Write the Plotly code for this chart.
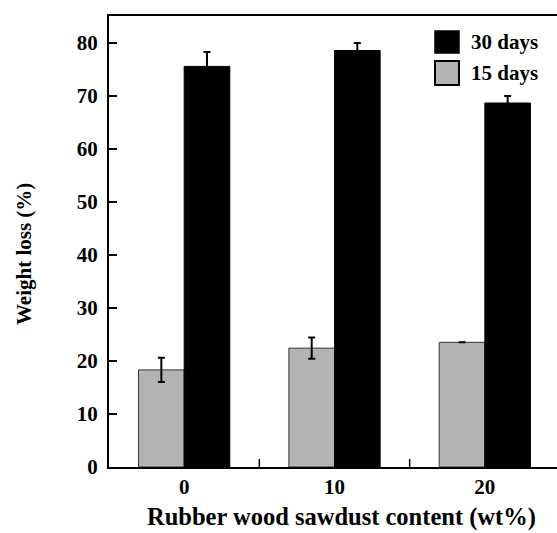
import plotly.graph_objects as go

categories = ["0", "10", "20"]
days15 = [18.3, 22.4, 23.5]
days15_err = [2.3, 2.0, 0.0]
days30 = [75.5, 78.5, 68.6]
days30_err = [2.7, 1.4, 1.3]
yticks = [0, 10, 20, 30, 40, 50, 60, 70, 80]

W, H = 557, 533
L, R, T, B = 109, 0, 16, 66
FONT = "Liberation Serif"

xpos = list(range(len(categories)))

fig = go.Figure()
fig.add_bar(x=xpos, y=days15, name="15 days",
            marker=dict(color="#b4b4b4", line=dict(color="#333333", width=1)),
            error_y=dict(type="data", array=days15_err, color="black", thickness=2, width=3.5),
            showlegend=False)
fig.add_bar(x=xpos, y=days30, name="30 days",
            marker=dict(color="black", line=dict(color="black", width=1)),
            error_y=dict(type="data", array=days30_err, color="black", thickness=2, width=3.5),
            showlegend=False)

pw, ph = W - L - R, H - T - B
def px(x): return (x - L) / pw
def py(y): return (H - B - y) / ph

shapes = [
    dict(type="rect", xref="paper", yref="paper", x0=px(435), x1=px(459), y0=py(53), y1=py(31),
         fillcolor="black", line=dict(color="black", width=1.5)),
    dict(type="rect", xref="paper", yref="paper", x0=px(435), x1=px(459), y0=py(85), y1=py(61),
         fillcolor="#b4b4b4", line=dict(color="black", width=2)),
]
annotations = [
    dict(text="<b>30 days</b>", xref="paper", yref="paper", x=px(469), y=py(42),
         xanchor="left", yanchor="middle", showarrow=False, font=dict(family=FONT, size=21, color="black")),
    dict(text="<b>15 days</b>", xref="paper", yref="paper", x=px(469), y=py(73),
         xanchor="left", yanchor="middle", showarrow=False, font=dict(family=FONT, size=21, color="black")),
    dict(text="<b>Rubber wood sawdust content (wt%)</b>", xref="paper", yref="paper", x=px(341), y=py(533),
         xanchor="center", yanchor="bottom", showarrow=False, font=dict(family=FONT, size=24.5, color="black")),
    dict(text="<b>Weight loss (%)</b>", xref="paper", yref="paper", x=px(24), y=py(254), textangle=-90,
         xanchor="center", yanchor="middle", showarrow=False, font=dict(family=FONT, size=21, color="black")),
]

fig.update_layout(
    width=W, height=H, margin=dict(l=L, r=R, t=T, b=B, autoexpand=False),
    paper_bgcolor="white", plot_bgcolor="white",
    barmode="group", bargap=0.393, bargroupgap=0,
    font=dict(family=FONT, size=17, color="black"),
    shapes=shapes, annotations=annotations,
    xaxis=dict(
        type="linear", range=[-0.5, 2.48], automargin=False,
        tickmode="array", tickvals=xpos, ticktext=[f"<b>{c}</b>" for c in categories],
        ticks="", showgrid=False, zeroline=False,
        showline=True, linecolor="black", linewidth=2, mirror=True,
        tickfont=dict(family=FONT, size=21),
    ),
    yaxis=dict(
        range=[0, 85], tickmode="array", tickvals=yticks, automargin=False,
        ticktext=[f"<b>{v}</b>" for v in yticks],
        ticks="inside", ticklen=8, tickwidth=1.5, tickcolor="black",
        ticklabelstandoff=5,
        showgrid=False, zeroline=False,
        showline=True, linecolor="black", linewidth=2,
        tickfont=dict(family=FONT, size=21),
    ),
)

# x-axis ticks between groups (inside, from bottom)
for b in [0.5, 1.5]:
    fig.add_shape(type="line", xref="x", yref="paper", x0=b, x1=b, y0=0, y1=8 / ph,
                  line=dict(color="black", width=1.5))

fig.write_html("out.html", config={"displayModeBar": False},
               post_script="document.body.style.margin='0';document.body.style.overflow='hidden';")
